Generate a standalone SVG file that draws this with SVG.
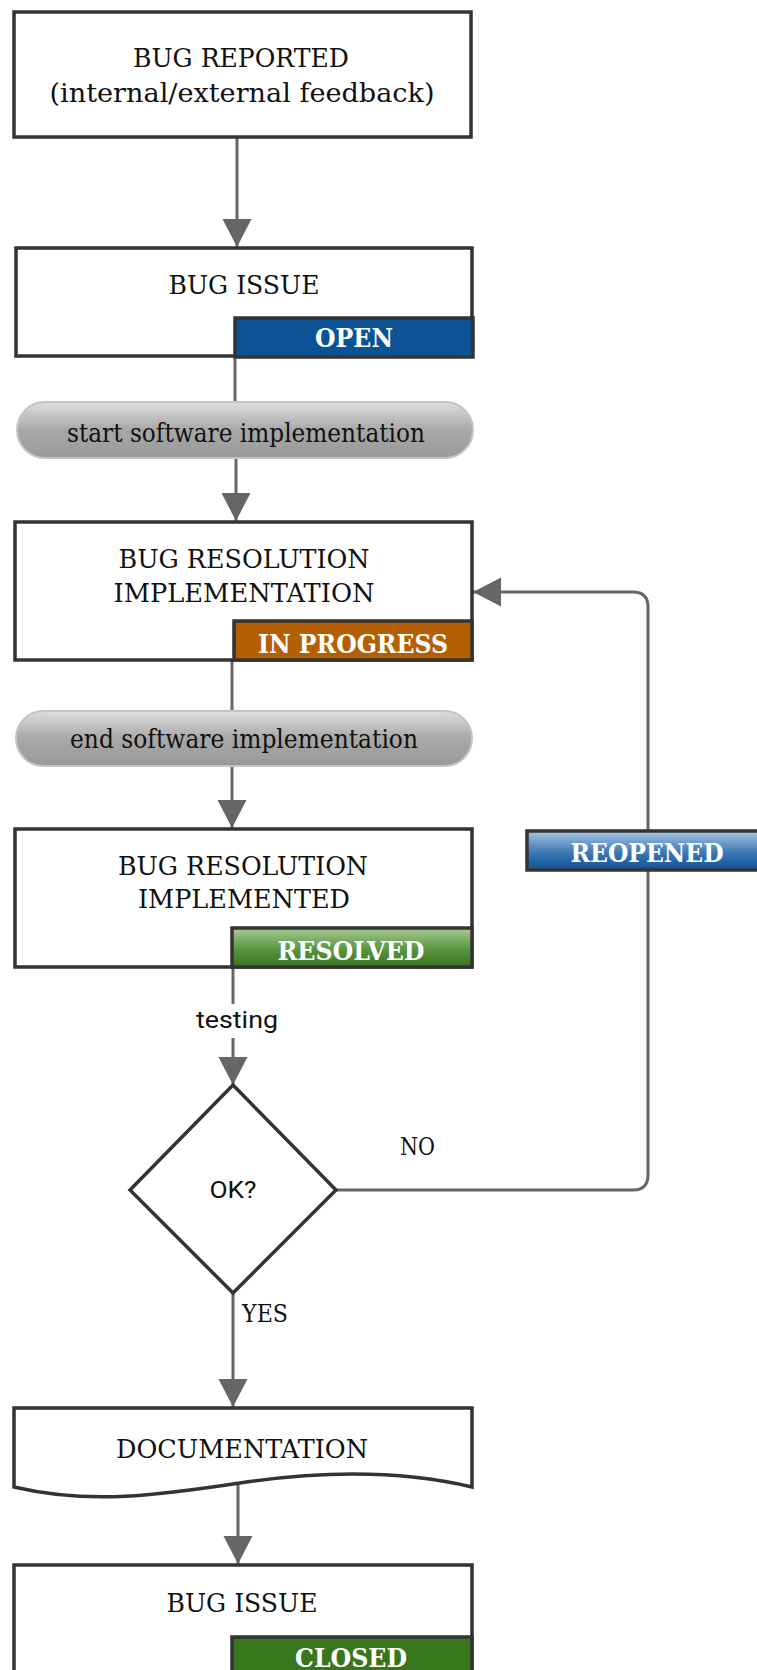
<svg xmlns="http://www.w3.org/2000/svg" width="757" height="1670" viewBox="0 0 757 1670">
<style>
.box{fill:#ffffff;stroke:#333333;stroke-width:3.5}
.badge{stroke:#333333;stroke-width:3.5}
.pill{fill:url(#gPill);stroke:#c4c4c4;stroke-width:2}
.lbl{font-family:'DejaVu Serif',serif;font-size:25.5px;fill:#111111;text-anchor:middle}
.btxt{font-family:'DejaVu Serif',serif;font-size:26px;font-weight:bold;fill:#ffffff;text-anchor:middle}
.sans{font-family:Roboto,'Liberation Sans',sans-serif;font-size:23px;fill:#111111;text-anchor:middle}
.edge{fill:none;stroke:#666666;stroke-width:3}
.elbl{font-family:'DejaVu Serif',serif;font-size:23.5px;fill:#111111}
</style>
<defs>
<linearGradient id="gPill" x1="0" y1="0" x2="0" y2="1">
<stop offset="0" stop-color="#dedede"/>
<stop offset="0.5" stop-color="#a8a8a8"/>
<stop offset="1" stop-color="#999999"/>
</linearGradient>
<linearGradient id="gRes" x1="0" y1="0" x2="0" y2="1">
<stop offset="0" stop-color="#a6cc95"/>
<stop offset="0.55" stop-color="#5a9440"/>
<stop offset="1" stop-color="#38761d"/>
</linearGradient>
<linearGradient id="gReo" x1="0" y1="0" x2="0" y2="1">
<stop offset="0" stop-color="#a8c6e4"/>
<stop offset="0.55" stop-color="#3d78b4"/>
<stop offset="1" stop-color="#0b5394"/>
</linearGradient>
<marker id="arr" markerUnits="userSpaceOnUse" markerWidth="28" markerHeight="30" refX="28" refY="15" orient="auto" viewBox="0 0 28 30">
<path d="M0,0.5 L28,15 L0,29.5 z" fill="#666666"/>
</marker>
</defs>

<g id="connectors">
<path class="edge" d="M237,137 V247" marker-end="url(#arr)"/>
<path class="edge" d="M235,357 V402"/>
<path class="edge" d="M236,458 V521" marker-end="url(#arr)"/>
<path class="edge" d="M232,661 V711"/>
<path class="edge" d="M232,766 V828" marker-end="url(#arr)"/>
<path class="edge" d="M233,967 V1085" marker-end="url(#arr)"/>
<path class="edge" d="M336,1190 H633 Q648,1190 648,1175 V607 Q648,592 633,592 H473" marker-end="url(#arr)"/>
<path class="edge" d="M233,1293 V1407" marker-end="url(#arr)"/>
<path class="edge" d="M238,1485 V1564" marker-end="url(#arr)"/>
<rect x="190" y="1004" width="94" height="34" fill="#ffffff"/>
<text class="sans" x="237" y="1028" textLength="82" lengthAdjust="spacingAndGlyphs">testing</text>
<text class="elbl" x="400" y="1155" textLength="35" lengthAdjust="spacingAndGlyphs">NO</text>
<text class="elbl" x="242" y="1322" textLength="46" lengthAdjust="spacingAndGlyphs">YES</text>
<g id="reopened">
<rect class="badge" x="527" y="831" width="245" height="39" fill="url(#gReo)"/>
<text class="btxt" x="647" y="862" textLength="153" lengthAdjust="spacingAndGlyphs">REOPENED</text>
</g>
</g>

<g id="bug-reported">
<rect class="box" x="14" y="12" width="457" height="125"/>
<text class="lbl" x="241" y="67" textLength="216" lengthAdjust="spacingAndGlyphs">BUG REPORTED</text>
<text class="lbl" x="242" y="102" textLength="385" lengthAdjust="spacingAndGlyphs">(internal/external feedback)</text>
</g>

<g id="bug-issue-open">
<rect class="box" x="16" y="248" width="456" height="108"/>
<text class="lbl" x="244" y="294" textLength="151" lengthAdjust="spacingAndGlyphs">BUG ISSUE</text>
<rect class="badge" x="235" y="318" width="238" height="39" fill="#0b5394"/>
<text class="btxt" x="354" y="347" textLength="78" lengthAdjust="spacingAndGlyphs">OPEN</text>
</g>

<g id="start-impl">
<rect class="pill" x="17" y="402" width="456" height="56" rx="28" ry="28"/>
<text class="lbl" x="246" y="442" textLength="358" lengthAdjust="spacingAndGlyphs">start software implementation</text>
</g>

<g id="bug-resolution-impl">
<rect class="box" x="15" y="522" width="457" height="138"/>
<text class="lbl" x="244" y="568" textLength="251" lengthAdjust="spacingAndGlyphs">BUG RESOLUTION</text>
<text class="lbl" x="244" y="602" textLength="261" lengthAdjust="spacingAndGlyphs">IMPLEMENTATION</text>
<rect class="badge" x="234" y="621" width="238" height="39" fill="#b45f06"/>
<text class="btxt" x="353" y="653" textLength="190" lengthAdjust="spacingAndGlyphs">IN PROGRESS</text>
</g>

<g id="end-impl">
<rect class="pill" x="16" y="711" width="456" height="55" rx="27.5" ry="27.5"/>
<text class="lbl" x="244" y="748" textLength="348" lengthAdjust="spacingAndGlyphs">end software implementation</text>
</g>

<g id="bug-resolution-implemented">
<rect class="box" x="15" y="829" width="457" height="138"/>
<text class="lbl" x="243" y="875" textLength="250" lengthAdjust="spacingAndGlyphs">BUG RESOLUTION</text>
<text class="lbl" x="244" y="908" textLength="212" lengthAdjust="spacingAndGlyphs">IMPLEMENTED</text>
<rect class="badge" x="232" y="928" width="240" height="39" fill="url(#gRes)"/>
<text class="btxt" x="351" y="960" textLength="147" lengthAdjust="spacingAndGlyphs">RESOLVED</text>
</g>

<g id="ok-decision">
<path class="box" d="M233,1085 L336,1190 L233,1293 L130,1190 Z"/>
<text class="sans" x="233" y="1198" font-size="23" textLength="47" lengthAdjust="spacingAndGlyphs">OK?</text>
</g>

<g id="documentation">
<path class="box" d="M14,1408 H472 V1487 C400,1470 320,1471 240,1483 C160,1495 90,1505 14,1487 Z"/>
<text class="lbl" x="242" y="1458" textLength="252" lengthAdjust="spacingAndGlyphs">DOCUMENTATION</text>
</g>

<g id="bug-issue-closed">
<rect class="box" x="14" y="1565" width="458" height="120"/>
<text class="lbl" x="242" y="1612" textLength="151" lengthAdjust="spacingAndGlyphs">BUG ISSUE</text>
<rect class="badge" x="232" y="1637" width="240" height="48" fill="#38761d"/>
<text class="btxt" x="351" y="1667" textLength="112" lengthAdjust="spacingAndGlyphs">CLOSED</text>
</g>
</svg>
